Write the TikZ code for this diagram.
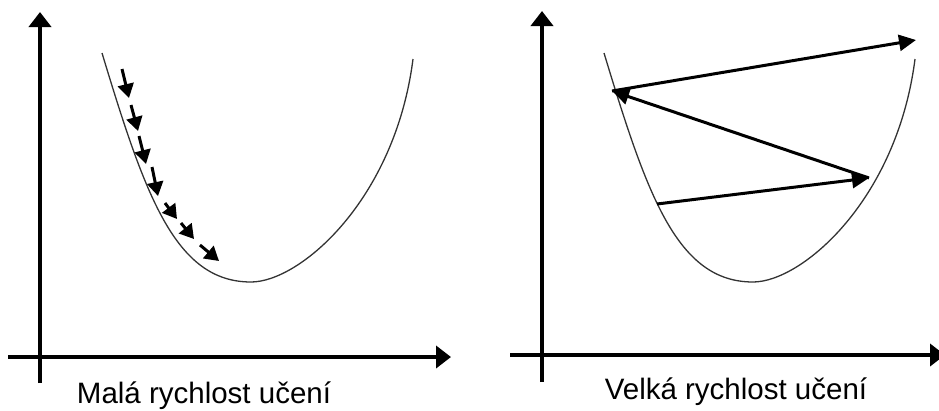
\documentclass[tikz,border=0pt]{standalone}
\usepackage{fontspec}
\setmainfont{Liberation Sans}
\usetikzlibrary{arrows.meta}
\tikzset{
  axis/.style={line width=4pt, -{Triangle[length=15pt,width=22pt]}},
  curve/.style={line width=1.3pt, draw=black!80},
  smallarr/.style={line width=3pt, -{Triangle[length=14pt,width=16pt]}},
  bigarr/.style={line width=3pt, -{Triangle[length=17pt,width=16pt]}},
  lbl/.style={font=\fontsize{29.5}{32}\selectfont, anchor=base, inner sep=0pt}
}
\begin{document}
\begin{tikzpicture}[x=1pt,y=-1pt]
\useasboundingbox (0,0) rectangle (939,410);
% left axes
\coordinate (lyb) at (40,383);
\coordinate (lyt) at (40,12);
\coordinate (lxl) at (8,357);
\coordinate (lxr) at (451,357);
\draw[axis] (lyb) -- (lyt);
\draw[axis] (lxl) -- (lxr);
% right axes
\coordinate (ryb) at (542,382);
\coordinate (ryt) at (542,11);
\coordinate (rxl) at (510,355);
\coordinate (rxr) at (945,355);
\draw[axis] (ryb) -- (ryt);
\draw[axis] (rxl) -- (rxr);
% curves
\foreach \dx in {0,502}{
  \begin{scope}[xshift=\dx]
  \draw[curve] (102,53) .. controls (145,195) and (175,282) .. (251,282)
                        .. controls (300,282) and (395,200) .. (413,59);
  \end{scope}
}
% small arrows (left)
\foreach \i/\ax/\ay/\bx/\by in {1/122/69/129/98, 2/131/105/138/131, 3/139/136/146/164, 4/152/167/158/196, 5/165/203/177/219, 6/181/223/194/239, 7/200/245/219/261}{
  \coordinate (s\i) at (\ax,\ay);
  \coordinate (e\i) at (\bx,\by);
  \draw[smallarr] (s\i) -- (e\i);
}
% big arrows (right)
\coordinate (p0) at (657,204);
\coordinate (p1) at (869,178);
\coordinate (p2) at (612,91);
\coordinate (p3) at (916,40);
\draw[bigarr] (p0) -- (p1);
\draw[bigarr] (p1) -- (p2);
\draw[bigarr] (p2) -- (p3);
% labels
\node[lbl] (tl) at (204,403) {Malá rychlost učení};
\node[lbl] (tr) at (736,399) {Velká rychlost učení};
\end{tikzpicture}
\end{document}
